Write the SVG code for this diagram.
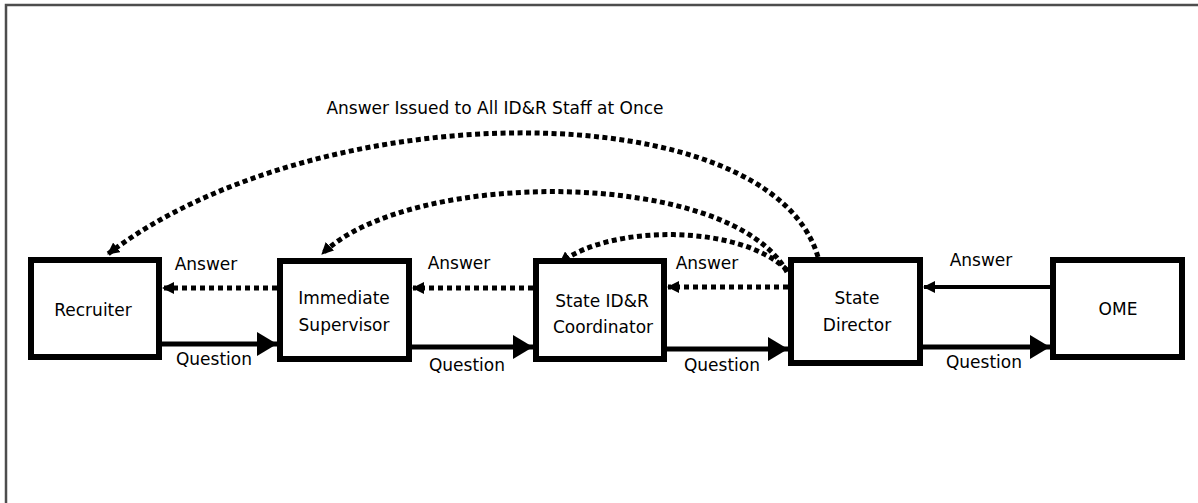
<svg xmlns="http://www.w3.org/2000/svg" width="1198" height="503" viewBox="0 0 1198 503">
<style>
.box{fill:#fff;stroke:#000;stroke-width:6}
.t{font-family:"DejaVu Sans",sans-serif;font-size:17px;fill:#000;text-anchor:middle;dominant-baseline:central}
.q{fill:none;stroke:#000;stroke-width:5;marker-end:url(#big)}
.a{fill:none;stroke:#000;stroke-width:5;stroke-dasharray:5 4;marker-end:url(#small)}
.arc{fill:none;stroke:#000;stroke-width:5;stroke-dasharray:5 3.5;marker-end:url(#small)}
.frame{fill:none;stroke:#4d4d4d;stroke-width:2.5}
</style>
<defs>
<marker id="big" markerUnits="userSpaceOnUse" markerWidth="20" markerHeight="24" refX="20" refY="12" orient="auto" viewBox="0 0 20 24"><path d="M0,0 L20,12 L0,24 z" fill="#000"/></marker>
<marker id="small" markerUnits="userSpaceOnUse" markerWidth="12" markerHeight="12" refX="11" refY="6" orient="auto" viewBox="0 0 12 12"><path d="M0,0 L12,6 L0,12 z" fill="#000"/></marker>
</defs>
<rect width="1198" height="503" fill="#fff"/>
<path class="frame" d="M6,503 L6,5 L1198,5"/>
<text class="t" x="495" y="108">Answer Issued to All ID&amp;R Staff at Once</text>
<g id="connectors">
<path class="q" d="M162,344 L277,344"/>
<path class="q" d="M412,347 L533,347"/>
<path class="q" d="M667,349 L788,349"/>
<path class="q" d="M923,347 L1050,347"/>
<path class="a" d="M277,288 L163,288"/>
<path class="a" d="M533,288 L413,288"/>
<path class="a" d="M788,287 L668,287"/>
<path d="M1050,287 L924,287" fill="none" stroke="#000" stroke-width="4" marker-end="url(#small)"/>
<path class="arc" d="M818,257 C770,92 320,92 108,254"/>
<path class="arc" d="M787,272 C730,168 410,168 322,254"/>
<path class="arc" d="M787,270 C740,224 610,224 560,263"/>
<text class="t" x="206" y="264">Answer</text>
<text class="t" x="459" y="263">Answer</text>
<text class="t" x="707" y="263">Answer</text>
<text class="t" x="981" y="260">Answer</text>
<text class="t" x="214" y="359">Question</text>
<text class="t" x="467" y="365">Question</text>
<text class="t" x="722" y="365">Question</text>
<text class="t" x="984" y="362">Question</text>
</g>
<g id="recruiter"><rect class="box" x="31" y="260" width="128" height="97"/><text class="t" x="93" y="310">Recruiter</text></g>
<g id="supervisor"><rect class="box" x="280" y="261" width="129" height="98"/><text class="t" x="344" y="298">Immediate</text><text class="t" x="344" y="325">Supervisor</text></g>
<g id="coordinator"><rect class="box" x="536" y="261" width="128" height="98"/><text class="t" x="602" y="301">State ID&amp;R</text><text class="t" x="603" y="327">Coordinator</text></g>
<g id="director"><rect class="box" x="791" y="260" width="129" height="103"/><text class="t" x="857" y="298">State</text><text class="t" x="857" y="325">Director</text></g>
<g id="ome"><rect class="box" x="1053" y="260" width="129" height="97"/><text class="t" x="1118" y="309">OME</text></g>
</svg>
